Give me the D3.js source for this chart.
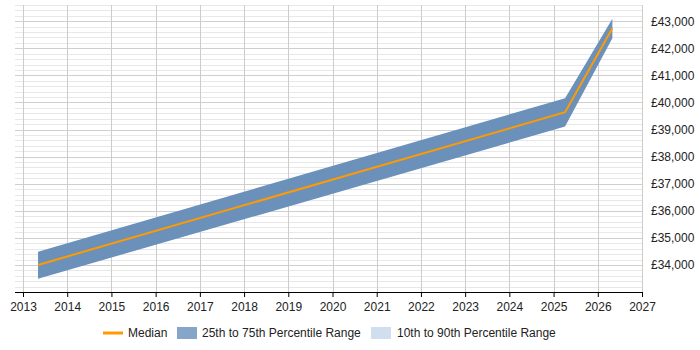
<!DOCTYPE html>
<meta charset="utf-8">
<html>
<head>
    <title>Salary trend</title>
    <script src="https://cdn.jsdelivr.net/npm/d3@7"></script>
</head>
<style>
    body { margin: 0; }
    svg { width: 700px; height: 350px; display: block; }
    text { font-family: "Liberation Sans", Arial, sans-serif; font-size: 12px; fill: #222; }
</style>
<body>
<svg></svg>
<script>
    // data
    const dates = [2013.34, 2025.26, 2026.33]
    const median = [34000, 39640, 42740]
    const p25 = [33490, 39110, 42370]
    const p75 = [34490, 40160, 43090]
    const yearTicks = d3.range(2013, 2028)
    const salaryTicks = [34000, 35000, 36000, 37000, 38000, 39000, 40000, 41000, 42000, 43000]

    const svg = d3.select("svg")
    const plotLeft = 15, plotRight = 642, plotTop = 5, plotBottom = 292

    const x = d3.scaleLinear().domain([2013, 2027]).range([23, plotRight])
    const y = d3.scaleLinear().domain([33000, 43600]).range([plotBottom, plotTop])

    const rows = dates.map((d, i) => ({date: d, med: median[i], lo: p25[i], hi: p75[i]}))

    // ***************************************
    //        grid
    // ***************************************
    const minor = d3.range(33000, 43601, 200)
    svg.append("g").selectAll("line").data(minor).enter().append("line")
        .attr("x1", plotLeft).attr("x2", plotRight)
        .attr("y1", d => Math.round(y(d)) + 0.5).attr("y2", d => Math.round(y(d)) + 0.5)
        .attr("stroke", d => d % 1000 === 0 ? "#cfcfcf" : "#e8e8e8")
    svg.append("g").selectAll("line").data(yearTicks).enter().append("line")
        .attr("x1", d => Math.round(x(d)) + 0.5).attr("x2", d => Math.round(x(d)) + 0.5)
        .attr("y1", plotTop).attr("y2", plotBottom)
        .attr("stroke", "#cccccc")

    // ***************************************
    //        band + median
    // ***************************************
    svg.append("path").datum(rows)
        .attr("fill", "#6b91bb")
        .attr("d", d3.area().x(d => x(d.date)).y0(d => y(d.lo)).y1(d => y(d.hi)))
    svg.append("path").datum(rows)
        .attr("fill", "none").attr("stroke", "#ff9a00").attr("stroke-width", 2)
        .attr("d", d3.line().x(d => x(d.date)).y(d => y(d.med)))

    // ***************************************
    //        axes
    // ***************************************
    const xAxis = svg.append("g").attr("transform", `translate(0,${plotBottom})`)
        .call(d3.axisBottom(x).tickValues(yearTicks).tickFormat(d3.format("d")).tickSize(5).tickPadding(5))
    xAxis.select(".domain").attr("d", `M${plotLeft},0.5H${plotRight}`).attr("stroke", "#000")
    xAxis.selectAll(".tick line").attr("stroke", "#000")
    xAxis.selectAll("text").attr("font-size", 12).attr("font-family", "Liberation Sans, Arial, sans-serif").attr("fill", "#222")

    const yAxis = svg.append("g").attr("transform", `translate(${plotRight},0)`)
        .call(d3.axisRight(y).tickValues(salaryTicks).tickFormat(d => "£" + d3.format(",")(d)).tickSize(0).tickPadding(9))
    yAxis.select(".domain").remove()
    yAxis.selectAll("text").attr("font-size", 12).attr("font-family", "Liberation Sans, Arial, sans-serif").attr("fill", "#222")

    // ***************************************
    //        legend
    // ***************************************
    const lg = svg.append("g").attr("transform", "translate(0,333)")
    lg.append("line").attr("x1", 103).attr("x2", 123).attr("y1", 0).attr("y2", 0)
        .attr("stroke", "#ff9a00").attr("stroke-width", 3)
    lg.append("text").attr("x", 128).attr("y", 4).text("Median")
    lg.append("rect").attr("x", 177).attr("y", -6).attr("width", 20).attr("height", 12).attr("fill", "#86a6c9")
    lg.append("text").attr("x", 202).attr("y", 4).text("25th to 75th Percentile Range")
    lg.append("rect").attr("x", 371).attr("y", -6).attr("width", 20).attr("height", 12).attr("fill", "#cfdff0")
    lg.append("text").attr("x", 397).attr("y", 4).text("10th to 90th Percentile Range")
</script>
</body>
</html>
